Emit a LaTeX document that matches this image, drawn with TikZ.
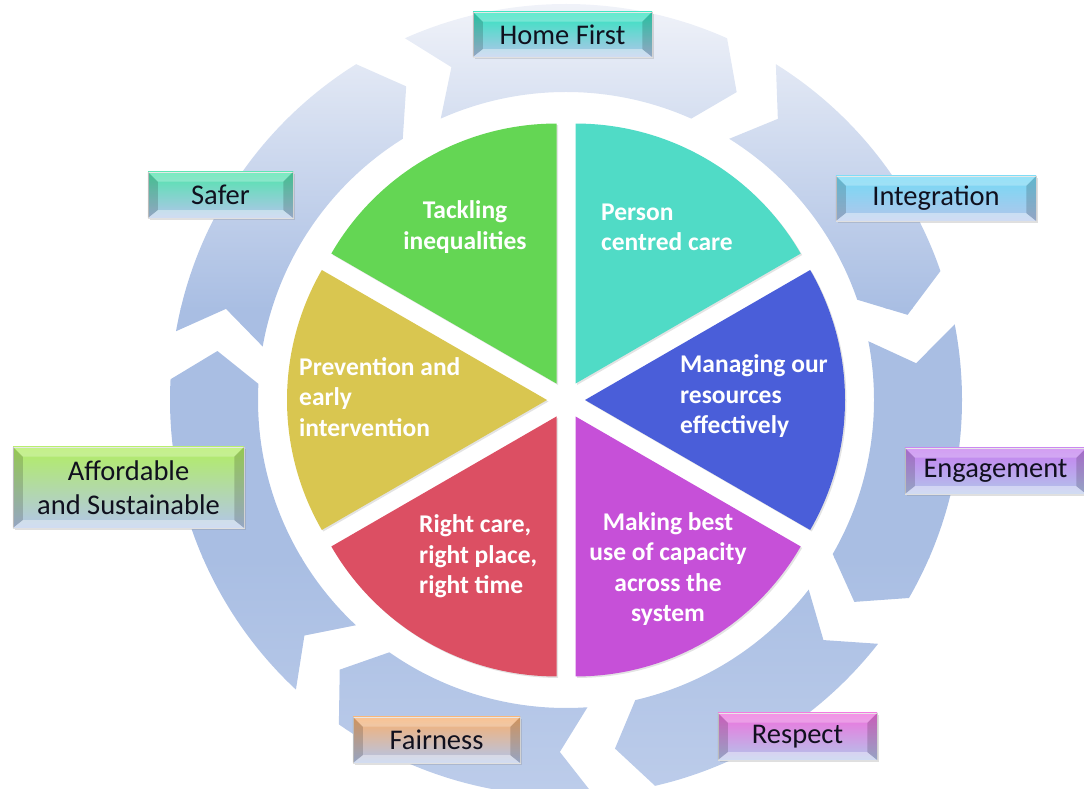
\documentclass[tikz,border=0pt]{standalone}
\usepackage{fontspec}
\setmainfont{Carlito}
\usetikzlibrary{shadows,calc}
\definecolor{ringtop}{HTML}{F1F3F9}
\definecolor{ringmid}{HTML}{A9BEE3}
\definecolor{ringbot}{HTML}{BCCCEA}
\definecolor{cgreen}{HTML}{64D654}
\definecolor{cteal}{HTML}{50DBC6}
\definecolor{cblue}{HTML}{4A5ED9}
\definecolor{cmag}{HTML}{C650D8}
\definecolor{cred}{HTML}{DC4F63}
\definecolor{cyel}{HTML}{D9C650}
\definecolor{boxbot}{HTML}{B2C5EA}
\definecolor{lhome}{HTML}{30E4BE}
\definecolor{linteg}{HTML}{74DAF6}
\definecolor{lengag}{HTML}{C67EF0}
\definecolor{lresp}{HTML}{F070DD}
\definecolor{lfair}{HTML}{F8B070}
\definecolor{lafford}{HTML}{B2EE62}
\definecolor{lsafer}{HTML}{50E4AC}
\definecolor{ltext}{HTML}{10101E}
\newcommand\bevelbox[1]{%
  \fill[black,opacity=0.16] (#1.north west) -- ++(10,-10) -- ($(#1.south west)+(10,8)$) -- (#1.south west) -- cycle;
  \fill[black,opacity=0.16] (#1.north east) -- ++(-10,-10) -- ($(#1.south east)+(-10,8)$) -- (#1.south east) -- cycle;
  \fill[white,opacity=0.25] (#1.north west) -- (#1.north east) -- ++(-10,-10) -- ($(#1.north west)+(10,-10)$) -- cycle;
  \fill[white,opacity=0.4] (#1.south west) -- (#1.south east) -- ++(-10,8) -- ($(#1.south west)+(10,8)$) -- cycle;
}
\begin{document}
\begin{tikzpicture}[x=1pt,y=1pt,
  sector/.style={drop shadow={shadow xshift=1.5pt,shadow yshift=-1.5pt,opacity=0.22}},
  sectortext/.style={text=white,font=\fontsize{25.5}{30.5}\selectfont\bfseries,inner sep=0pt},
  lbox/.style={draw=white!75!gray,line width=0.5pt,text=ltext,
    font=\fontsize{28.5}{34}\selectfont,align=center,inner sep=0pt,
    top color=#1,middle color=#1!62!boxbot,bottom color=boxbot,
    drop shadow={shadow xshift=2pt,shadow yshift=-2pt,opacity=0.25}}]
\useasboundingbox (0,0) rectangle (1084,789);
\clip (0,0) rectangle (1084,789);
% ring of arrow segments
\begin{scope}
  \clip[shift={(566,389)}]
    \foreach \t/\h in {114/66,58/19,11/-30,-38/-77,-86/-125,-133/-183,-190/-238}{
      (\t:396) arc[start angle=\t,end angle=\h,radius=396] -- ({\h-5}:352) -- (\h:308)
      arc[start angle=\h,end angle=\t,radius=308] -- ({\t-5}:352) -- cycle };
  \shade[top color=ringtop,bottom color=ringmid] (0,789) rectangle (1084,480);
  \fill[ringmid] (0,481) rectangle (1084,230);
  \shade[top color=ringmid,bottom color=ringbot] (0,231) rectangle (1084,0);
\end{scope}
% pie sectors
\begin{scope}[shift={(566,389)}]
  \foreach \a/\b/\m/\c in {90/150/120/cgreen,30/90/60/cteal,-30/30/0/cblue,-90/-30/-60/cmag,-150/-90/-120/cred,150/210/180/cyel}{
    \fill[\c,sector,shift={(\m:19)}] (0,0) -- (\a:260) arc[start angle=\a,end angle=\b,radius=260] -- cycle;
  }
\end{scope}
% sector texts
\node[sectortext,align=center] (t1) at (465,562) {Tackling\\inequalities};
\node[sectortext,align=left,anchor=west] (t2) at (601,561.5) {Person\\centred care};
\node[sectortext,align=left,anchor=west] (t3) at (680,392.5) {Managing our\\resources\\effectively};
\node[sectortext,align=center] (t4) at (668,220) {Making best\\use of capacity\\across the\\system};
\node[sectortext,align=left,anchor=west] (t5) at (419,232.5) {Right care,\\right place,\\right time};
\node[sectortext,align=left,anchor=west] (t6) at (299,392) {Prevention and\\early\\intervention};
% label boxes
\node[lbox=lhome,minimum width=179,minimum height=45] (home) at (562.5,754.5) {Home First};
\bevelbox{home}
\node[lbox=linteg,minimum width=200,minimum height=45] (integ) at (936,590.5) {Integration};
\bevelbox{integ}
\node[lbox=lengag,minimum width=181,minimum height=46] (engag) at (995.5,318) {Engagement};
\bevelbox{engag}
\node[lbox=lresp,minimum width=159,minimum height=47] (resp) at (797.5,52.5) {Respect};
\bevelbox{resp}
\node[lbox=lfair,minimum width=167,minimum height=46] (fair) at (436.5,49) {Fairness};
\bevelbox{fair}
\node[lbox=lafford,minimum width=231,minimum height=81] (afford) at (128.5,301.5) {Affordable\\and Sustainable};
\bevelbox{afford}
\node[lbox=lsafer,minimum width=145,minimum height=46] (safer) at (220.5,594) {Safer};
\bevelbox{safer}
\end{tikzpicture}
\end{document}
